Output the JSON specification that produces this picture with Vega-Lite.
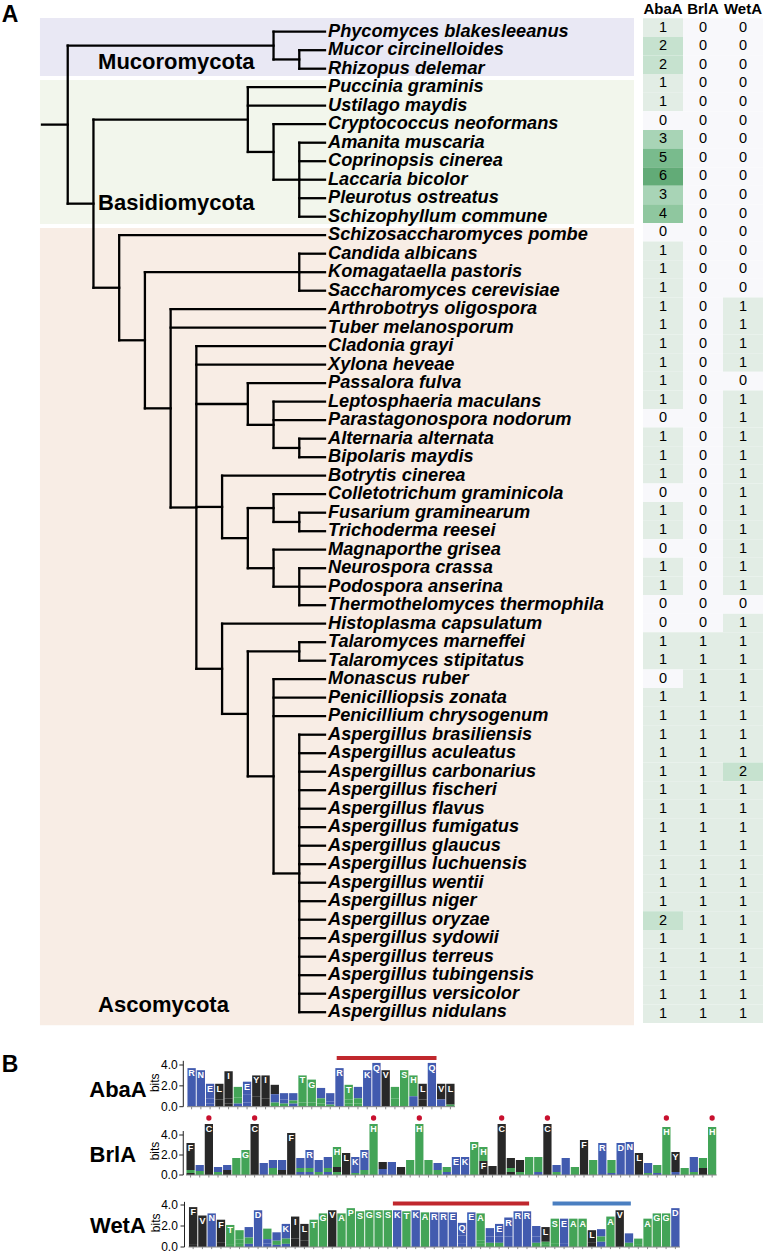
{
"$schema":"https://vega.github.io/schema/vega-lite/v6.json",
"width":768,"height":1254,"padding":0,
"autosize":{"type":"fit","contains":"padding"},
"background":"white",
"config":{"view":{"stroke":null},"axis":{"disable":true},"legend":{"disable":true},"text":{"font":"Liberation Sans"}},
"data":{"values":[{}]},
"resolve":{"scale":{"x":"independent","y":"independent","color":"independent"}},
"datasets":{
"species":[
{"n":"Phycomyces blakesleeanus","r":0,"pd":9,"AbaA":1,"BrlA":0,"WetA":0},
{"n":"Mucor circinelloides","r":1,"pd":10,"AbaA":2,"BrlA":0,"WetA":0},
{"n":"Rhizopus delemar","r":2,"pd":10,"AbaA":2,"BrlA":0,"WetA":0},
{"n":"Puccinia graminis","r":3,"pd":8,"AbaA":1,"BrlA":0,"WetA":0},
{"n":"Ustilago maydis","r":4,"pd":8,"AbaA":1,"BrlA":0,"WetA":0},
{"n":"Cryptococcus neoformans","r":5,"pd":9,"AbaA":0,"BrlA":0,"WetA":0},
{"n":"Amanita muscaria","r":6,"pd":10,"AbaA":3,"BrlA":0,"WetA":0},
{"n":"Coprinopsis cinerea","r":7,"pd":10,"AbaA":5,"BrlA":0,"WetA":0},
{"n":"Laccaria bicolor","r":8,"pd":10,"AbaA":6,"BrlA":0,"WetA":0},
{"n":"Pleurotus ostreatus","r":9,"pd":10,"AbaA":3,"BrlA":0,"WetA":0},
{"n":"Schizophyllum commune","r":10,"pd":10,"AbaA":4,"BrlA":0,"WetA":0},
{"n":"Schizosaccharomyces pombe","r":11,"pd":3,"AbaA":0,"BrlA":0,"WetA":0},
{"n":"Candida albicans","r":12,"pd":10,"AbaA":1,"BrlA":0,"WetA":0},
{"n":"Komagataella pastoris","r":13,"pd":10,"AbaA":1,"BrlA":0,"WetA":0},
{"n":"Saccharomyces cerevisiae","r":14,"pd":10,"AbaA":1,"BrlA":0,"WetA":0},
{"n":"Arthrobotrys oligospora","r":15,"pd":5,"AbaA":1,"BrlA":0,"WetA":1},
{"n":"Tuber melanosporum","r":16,"pd":5,"AbaA":1,"BrlA":0,"WetA":1},
{"n":"Cladonia grayi","r":17,"pd":6,"AbaA":1,"BrlA":0,"WetA":1},
{"n":"Xylona heveae","r":18,"pd":6,"AbaA":1,"BrlA":0,"WetA":1},
{"n":"Passalora fulva","r":19,"pd":8,"AbaA":1,"BrlA":0,"WetA":0},
{"n":"Leptosphaeria maculans","r":20,"pd":9,"AbaA":1,"BrlA":0,"WetA":1},
{"n":"Parastagonospora nodorum","r":21,"pd":9,"AbaA":0,"BrlA":0,"WetA":1},
{"n":"Alternaria alternata","r":22,"pd":10,"AbaA":1,"BrlA":0,"WetA":1},
{"n":"Bipolaris maydis","r":23,"pd":10,"AbaA":1,"BrlA":0,"WetA":1},
{"n":"Botrytis cinerea","r":24,"pd":7,"AbaA":1,"BrlA":0,"WetA":1},
{"n":"Colletotrichum graminicola","r":25,"pd":9,"AbaA":0,"BrlA":0,"WetA":1},
{"n":"Fusarium graminearum","r":26,"pd":10,"AbaA":1,"BrlA":0,"WetA":1},
{"n":"Trichoderma reesei","r":27,"pd":10,"AbaA":1,"BrlA":0,"WetA":1},
{"n":"Magnaporthe grisea","r":28,"pd":9,"AbaA":0,"BrlA":0,"WetA":1},
{"n":"Neurospora crassa","r":29,"pd":10,"AbaA":1,"BrlA":0,"WetA":1},
{"n":"Podospora anserina","r":30,"pd":10,"AbaA":1,"BrlA":0,"WetA":1},
{"n":"Thermothelomyces thermophila","r":31,"pd":10,"AbaA":0,"BrlA":0,"WetA":0},
{"n":"Histoplasma capsulatum","r":32,"pd":7,"AbaA":0,"BrlA":0,"WetA":1},
{"n":"Talaromyces marneffei","r":33,"pd":10,"AbaA":1,"BrlA":1,"WetA":1},
{"n":"Talaromyces stipitatus","r":34,"pd":10,"AbaA":1,"BrlA":1,"WetA":1},
{"n":"Monascus ruber","r":35,"pd":9,"AbaA":0,"BrlA":1,"WetA":1},
{"n":"Penicilliopsis zonata","r":36,"pd":9,"AbaA":1,"BrlA":1,"WetA":1},
{"n":"Penicillium chrysogenum","r":37,"pd":9,"AbaA":1,"BrlA":1,"WetA":1},
{"n":"Aspergillus brasiliensis","r":38,"pd":10,"AbaA":1,"BrlA":1,"WetA":1},
{"n":"Aspergillus aculeatus","r":39,"pd":10,"AbaA":1,"BrlA":1,"WetA":1},
{"n":"Aspergillus carbonarius","r":40,"pd":10,"AbaA":1,"BrlA":1,"WetA":2},
{"n":"Aspergillus fischeri","r":41,"pd":10,"AbaA":1,"BrlA":1,"WetA":1},
{"n":"Aspergillus flavus","r":42,"pd":10,"AbaA":1,"BrlA":1,"WetA":1},
{"n":"Aspergillus fumigatus","r":43,"pd":10,"AbaA":1,"BrlA":1,"WetA":1},
{"n":"Aspergillus glaucus","r":44,"pd":10,"AbaA":1,"BrlA":1,"WetA":1},
{"n":"Aspergillus luchuensis","r":45,"pd":10,"AbaA":1,"BrlA":1,"WetA":1},
{"n":"Aspergillus wentii","r":46,"pd":10,"AbaA":1,"BrlA":1,"WetA":1},
{"n":"Aspergillus niger","r":47,"pd":10,"AbaA":1,"BrlA":1,"WetA":1},
{"n":"Aspergillus oryzae","r":48,"pd":10,"AbaA":2,"BrlA":1,"WetA":1},
{"n":"Aspergillus sydowii","r":49,"pd":10,"AbaA":1,"BrlA":1,"WetA":1},
{"n":"Aspergillus terreus","r":50,"pd":10,"AbaA":1,"BrlA":1,"WetA":1},
{"n":"Aspergillus tubingensis","r":51,"pd":10,"AbaA":1,"BrlA":1,"WetA":1},
{"n":"Aspergillus versicolor","r":52,"pd":10,"AbaA":1,"BrlA":1,"WetA":1},
{"n":"Aspergillus nidulans","r":53,"pd":10,"AbaA":1,"BrlA":1,"WetA":1}
],
"edges":[
{"a":0,"b":1,"y1":5.0225,"y2":5.0225},{"a":1,"b":9,"y1":0.75,"y2":0.75},{"a":1,"b":2,"y1":9.295,"y2":9.295},
{"a":9,"b":10,"y1":1.5,"y2":1.5},{"a":2,"b":8,"y1":4.75,"y2":4.75},{"a":2,"b":3,"y1":13.84,"y2":13.84},
{"a":8,"b":9,"y1":6.5,"y2":6.5},{"a":9,"b":10,"y1":8,"y2":8},{"a":3,"b":4,"y1":16.68,"y2":16.68},
{"a":4,"b":10,"y1":13,"y2":13},{"a":4,"b":5,"y1":20.359,"y2":20.359},{"a":5,"b":6,"y1":25.719,"y2":25.719},
{"a":6,"b":8,"y1":20.125,"y2":20.125},{"a":6,"b":7,"y1":25.6875,"y2":25.6875},{"a":6,"b":7,"y1":34.4375,"y2":34.4375},
{"a":8,"b":9,"y1":21.25,"y2":21.25},{"a":9,"b":10,"y1":22.5,"y2":22.5},{"a":7,"b":8,"y1":27.375,"y2":27.375},
{"a":8,"b":9,"y1":25.75,"y2":25.75},{"a":8,"b":9,"y1":29,"y2":29},{"a":9,"b":10,"y1":26.5,"y2":26.5},
{"a":9,"b":10,"y1":30,"y2":30},{"a":7,"b":8,"y1":36.875,"y2":36.875},{"a":8,"b":10,"y1":33.5,"y2":33.5},
{"a":8,"b":9,"y1":40.25,"y2":40.25},{"a":9,"b":10,"y1":45.5,"y2":45.5},
{"a":1,"b":1,"y1":0.75,"y2":9.295},{"a":9,"b":9,"y1":0,"y2":1.5},{"a":10,"b":10,"y1":1,"y2":2},
{"a":2,"b":2,"y1":4.75,"y2":13.84},{"a":8,"b":8,"y1":3,"y2":6.5},{"a":9,"b":9,"y1":5,"y2":8},
{"a":10,"b":10,"y1":6,"y2":10},{"a":3,"b":3,"y1":11,"y2":16.68},{"a":4,"b":4,"y1":13,"y2":20.359},
{"a":10,"b":10,"y1":12,"y2":14},{"a":5,"b":5,"y1":15,"y2":25.719},{"a":6,"b":6,"y1":17,"y2":34.4375},
{"a":8,"b":8,"y1":19,"y2":21.25},{"a":9,"b":9,"y1":20,"y2":22.5},{"a":10,"b":10,"y1":22,"y2":23},
{"a":7,"b":7,"y1":24,"y2":27.375},{"a":8,"b":8,"y1":25.75,"y2":29},{"a":9,"b":9,"y1":25,"y2":26.5},
{"a":10,"b":10,"y1":26,"y2":27},{"a":9,"b":9,"y1":28,"y2":30},{"a":10,"b":10,"y1":29,"y2":31},
{"a":7,"b":7,"y1":32,"y2":36.875},{"a":8,"b":8,"y1":33.5,"y2":40.25},{"a":10,"b":10,"y1":33,"y2":34},
{"a":9,"b":9,"y1":35,"y2":45.5},{"a":10,"b":10,"y1":38,"y2":53}
],
"clades":[
{"c":"Mucoromycota","r1":-0.74,"r2":2.39,"lr":1.65},
{"c":"Basidiomycota","r1":2.61,"r2":10.4,"lr":9.28},
{"c":"Ascomycota","r1":10.61,"r2":53.7,"lr":52.6}
],
"genes":[{"g":"AbaA"},{"g":"BrlA"},{"g":"WetA"}],
"ticks":[{"v":0,"t":"0.0"},{"v":2,"t":"2.0"},{"v":4,"t":"4.0"}],
"letters":[
{"g":"AbaA","p":0,"l":"R","h":3.7,"k":1},
{"g":"AbaA","p":1,"l":"N","h":3.5,"k":1},
{"g":"AbaA","p":2,"l":"E","h":1.4,"k":1},{"g":"AbaA","p":2,"l":"Q","h":0.5,"k":2},{"g":"AbaA","p":2,"l":"D","h":0.3,"k":3},
{"g":"AbaA","p":3,"l":"L","h":1.5,"k":1},{"g":"AbaA","p":3,"l":"F","h":0.7,"k":2},
{"g":"AbaA","p":4,"l":"I","h":2.6,"k":1},{"g":"AbaA","p":4,"l":"F","h":0.5,"k":2},{"g":"AbaA","p":4,"l":"C","h":0.3,"k":3},
{"g":"AbaA","p":5,"l":"S","h":1.0,"k":1},{"g":"AbaA","p":5,"l":"A","h":0.6,"k":2},{"g":"AbaA","p":5,"l":"E","h":0.3,"k":3},
{"g":"AbaA","p":6,"l":"E","h":1.2,"k":1},{"g":"AbaA","p":6,"l":"D","h":0.8,"k":2},{"g":"AbaA","p":6,"l":"K","h":0.4,"k":3},
{"g":"AbaA","p":7,"l":"Y","h":2.0,"k":1},{"g":"AbaA","p":7,"l":"F","h":1.0,"k":2},
{"g":"AbaA","p":8,"l":"I","h":2.2,"k":1},{"g":"AbaA","p":8,"l":"C","h":0.8,"k":2},
{"g":"AbaA","p":9,"l":"Y","h":0.9,"k":1},{"g":"AbaA","p":9,"l":"E","h":0.8,"k":2},{"g":"AbaA","p":9,"l":"S","h":0.4,"k":3},
{"g":"AbaA","p":10,"l":"K","h":0.6,"k":1},{"g":"AbaA","p":10,"l":"E","h":0.4,"k":2},{"g":"AbaA","p":10,"l":"S","h":0.3,"k":3},
{"g":"AbaA","p":11,"l":"K","h":0.7,"k":1},{"g":"AbaA","p":11,"l":"S","h":0.3,"k":2},{"g":"AbaA","p":11,"l":"E","h":0.3,"k":3},
{"g":"AbaA","p":12,"l":"T","h":2.6,"k":1},{"g":"AbaA","p":12,"l":"S","h":0.4,"k":2},
{"g":"AbaA","p":13,"l":"G","h":2.2,"k":1},{"g":"AbaA","p":13,"l":"S","h":0.4,"k":2},
{"g":"AbaA","p":14,"l":"K","h":1.0,"k":1},{"g":"AbaA","p":14,"l":"T","h":0.5,"k":2},{"g":"AbaA","p":14,"l":"S","h":0.3,"k":3},
{"g":"AbaA","p":15,"l":"R","h":0.8,"k":1},{"g":"AbaA","p":15,"l":"K","h":0.3,"k":2},{"g":"AbaA","p":15,"l":"S","h":0.2,"k":3},
{"g":"AbaA","p":16,"l":"R","h":3.7,"k":1},
{"g":"AbaA","p":17,"l":"T","h":1.4,"k":1},{"g":"AbaA","p":17,"l":"S","h":0.4,"k":2},{"g":"AbaA","p":17,"l":"G","h":0.3,"k":3},
{"g":"AbaA","p":18,"l":"R","h":1.1,"k":1},{"g":"AbaA","p":18,"l":"G","h":0.5,"k":2},{"g":"AbaA","p":18,"l":"S","h":0.3,"k":3},
{"g":"AbaA","p":19,"l":"K","h":3.5,"k":1},
{"g":"AbaA","p":20,"l":"Q","h":4.2,"k":1},
{"g":"AbaA","p":21,"l":"V","h":3.5,"k":1},
{"g":"AbaA","p":22,"l":"S","h":1.1,"k":1},{"g":"AbaA","p":22,"l":"G","h":0.8,"k":2},
{"g":"AbaA","p":23,"l":"S","h":3.5,"k":1},
{"g":"AbaA","p":24,"l":"H","h":2.0,"k":1},{"g":"AbaA","p":24,"l":"R","h":1.0,"k":2},
{"g":"AbaA","p":25,"l":"L","h":1.5,"k":1},{"g":"AbaA","p":25,"l":"I","h":0.7,"k":2},
{"g":"AbaA","p":26,"l":"Q","h":4.2,"k":1},
{"g":"AbaA","p":27,"l":"V","h":1.5,"k":1},{"g":"AbaA","p":27,"l":"Q","h":0.7,"k":2},
{"g":"AbaA","p":28,"l":"L","h":2.0,"k":1},{"g":"AbaA","p":28,"l":"A","h":0.2,"k":2},
{"g":"BrlA","p":0,"l":"F","h":2.7,"k":1},{"g":"BrlA","p":0,"l":"H","h":0.3,"k":2},{"g":"BrlA","p":0,"l":"Y","h":0.2,"k":3},
{"g":"BrlA","p":1,"l":"K","h":0.6,"k":1},{"g":"BrlA","p":1,"l":"H","h":0.4,"k":2},
{"g":"BrlA","p":2,"l":"C","h":5.1,"k":1},
{"g":"BrlA","p":3,"l":"K","h":0.5,"k":1},{"g":"BrlA","p":3,"l":"S","h":0.3,"k":2},
{"g":"BrlA","p":4,"l":"E","h":0.5,"k":1},{"g":"BrlA","p":4,"l":"F","h":0.3,"k":2},{"g":"BrlA","p":4,"l":"M","h":0.2,"k":3},
{"g":"BrlA","p":5,"l":"P","h":1.1,"k":1},{"g":"BrlA","p":5,"l":"S","h":0.4,"k":2},{"g":"BrlA","p":5,"l":"G","h":0.2,"k":3},
{"g":"BrlA","p":6,"l":"G","h":2.0,"k":1},{"g":"BrlA","p":6,"l":"S","h":0.3,"k":2},{"g":"BrlA","p":6,"l":"A","h":0.2,"k":3},
{"g":"BrlA","p":7,"l":"C","h":5.1,"k":1},
{"g":"BrlA","p":8,"l":"Q","h":0.6,"k":1},{"g":"BrlA","p":8,"l":"K","h":0.6,"k":2},
{"g":"BrlA","p":9,"l":"K","h":0.8,"k":1},{"g":"BrlA","p":9,"l":"G","h":0.5,"k":2},{"g":"BrlA","p":9,"l":"S","h":0.2,"k":3},
{"g":"BrlA","p":10,"l":"R","h":1.0,"k":1},{"g":"BrlA","p":10,"l":"Y","h":0.5,"k":2},
{"g":"BrlA","p":11,"l":"F","h":4.2,"k":1},
{"g":"BrlA","p":12,"l":"K","h":1.0,"k":1},{"g":"BrlA","p":12,"l":"S","h":0.4,"k":2},{"g":"BrlA","p":12,"l":"Q","h":0.3,"k":3},
{"g":"BrlA","p":13,"l":"R","h":1.8,"k":1},{"g":"BrlA","p":13,"l":"S","h":0.4,"k":2},{"g":"BrlA","p":13,"l":"Q","h":0.3,"k":3},
{"g":"BrlA","p":14,"l":"Q","h":0.8,"k":1},{"g":"BrlA","p":14,"l":"E","h":0.4,"k":2},{"g":"BrlA","p":14,"l":"S","h":0.3,"k":3},
{"g":"BrlA","p":15,"l":"E","h":1.1,"k":1},{"g":"BrlA","p":15,"l":"S","h":0.4,"k":2},{"g":"BrlA","p":15,"l":"D","h":0.3,"k":3},
{"g":"BrlA","p":16,"l":"H","h":2.0,"k":1},{"g":"BrlA","p":16,"l":"Y","h":0.5,"k":2},{"g":"BrlA","p":16,"l":"S","h":0.3,"k":3},
{"g":"BrlA","p":17,"l":"L","h":1.8,"k":1},{"g":"BrlA","p":17,"l":"V","h":0.4,"k":2},
{"g":"BrlA","p":18,"l":"K","h":1.2,"k":1},{"g":"BrlA","p":18,"l":"R","h":0.4,"k":2},{"g":"BrlA","p":18,"l":"S","h":0.2,"k":3},
{"g":"BrlA","p":19,"l":"R","h":2.0,"k":1},{"g":"BrlA","p":19,"l":"S","h":0.3,"k":2},{"g":"BrlA","p":19,"l":"A","h":0.2,"k":3},
{"g":"BrlA","p":20,"l":"H","h":5.1,"k":1},
{"g":"BrlA","p":21,"l":"M","h":0.7,"k":1},{"g":"BrlA","p":21,"l":"K","h":0.6,"k":2},
{"g":"BrlA","p":22,"l":"R","h":0.7,"k":1},{"g":"BrlA","p":22,"l":"K","h":0.6,"k":2},
{"g":"BrlA","p":23,"l":"I","h":0.8,"k":1},
{"g":"BrlA","p":24,"l":"S","h":0.9,"k":1},{"g":"BrlA","p":24,"l":"T","h":0.6,"k":2},
{"g":"BrlA","p":25,"l":"H","h":5.1,"k":1},
{"g":"BrlA","p":26,"l":"S","h":0.9,"k":1},{"g":"BrlA","p":26,"l":"T","h":0.4,"k":2},{"g":"BrlA","p":26,"l":"G","h":0.2,"k":3},
{"g":"BrlA","p":27,"l":"K","h":0.7,"k":1},{"g":"BrlA","p":27,"l":"S","h":0.5,"k":2},
{"g":"BrlA","p":28,"l":"S","h":0.5,"k":1},{"g":"BrlA","p":28,"l":"K","h":0.3,"k":2},
{"g":"BrlA","p":29,"l":"E","h":1.3,"k":1},{"g":"BrlA","p":29,"l":"R","h":0.5,"k":2},
{"g":"BrlA","p":30,"l":"K","h":1.2,"k":1},{"g":"BrlA","p":30,"l":"R","h":0.6,"k":2},
{"g":"BrlA","p":31,"l":"P","h":3.3,"k":1},
{"g":"BrlA","p":32,"l":"H","h":1.4,"k":1},{"g":"BrlA","p":32,"l":"F","h":1.2,"k":2},{"g":"BrlA","p":32,"l":"Y","h":0.2,"k":3},
{"g":"BrlA","p":33,"l":"Y","h":0.6,"k":1},{"g":"BrlA","p":33,"l":"V","h":0.3,"k":2},
{"g":"BrlA","p":34,"l":"C","h":5.1,"k":1},
{"g":"BrlA","p":35,"l":"W","h":1.0,"k":1},{"g":"BrlA","p":35,"l":"S","h":0.4,"k":2},{"g":"BrlA","p":35,"l":"Y","h":0.3,"k":3},
{"g":"BrlA","p":36,"l":"Y","h":0.9,"k":1},{"g":"BrlA","p":36,"l":"V","h":0.3,"k":2},{"g":"BrlA","p":36,"l":"S","h":0.3,"k":3},
{"g":"BrlA","p":37,"l":"P","h":1.1,"k":1},{"g":"BrlA","p":37,"l":"S","h":0.4,"k":2},{"g":"BrlA","p":37,"l":"G","h":0.3,"k":3},
{"g":"BrlA","p":38,"l":"G","h":1.1,"k":1},{"g":"BrlA","p":38,"l":"S","h":0.4,"k":2},{"g":"BrlA","p":38,"l":"N","h":0.3,"k":3},
{"g":"BrlA","p":39,"l":"C","h":5.1,"k":1},
{"g":"BrlA","p":40,"l":"K","h":0.4,"k":1},{"g":"BrlA","p":40,"l":"N","h":0.3,"k":2},{"g":"BrlA","p":40,"l":"S","h":0.3,"k":3},
{"g":"BrlA","p":41,"l":"R","h":0.9,"k":1},{"g":"BrlA","p":41,"l":"K","h":0.8,"k":2},
{"g":"BrlA","p":42,"l":"A","h":0.5,"k":1},{"g":"BrlA","p":42,"l":"S","h":0.3,"k":2},
{"g":"BrlA","p":43,"l":"F","h":3.5,"k":1},
{"g":"BrlA","p":44,"l":"S","h":1.0,"k":1},{"g":"BrlA","p":44,"l":"G","h":0.3,"k":2},{"g":"BrlA","p":44,"l":"T","h":0.2,"k":3},
{"g":"BrlA","p":45,"l":"R","h":3.2,"k":1},
{"g":"BrlA","p":46,"l":"S","h":1.0,"k":1},{"g":"BrlA","p":46,"l":"T","h":0.3,"k":2},{"g":"BrlA","p":46,"l":"K","h":0.2,"k":3},
{"g":"BrlA","p":47,"l":"D","h":3.2,"k":1},
{"g":"BrlA","p":48,"l":"N","h":3.3,"k":1},
{"g":"BrlA","p":49,"l":"L","h":2.2,"k":1},
{"g":"BrlA","p":50,"l":"N","h":0.7,"k":1},{"g":"BrlA","p":50,"l":"K","h":0.3,"k":2},{"g":"BrlA","p":50,"l":"S","h":0.2,"k":3},
{"g":"BrlA","p":51,"l":"A","h":0.6,"k":1},{"g":"BrlA","p":51,"l":"S","h":0.2,"k":2},{"g":"BrlA","p":51,"l":"Q","h":0.2,"k":3},
{"g":"BrlA","p":52,"l":"H","h":4.8,"k":1},
{"g":"BrlA","p":53,"l":"Y","h":1.5,"k":1},{"g":"BrlA","p":53,"l":"C","h":0.5,"k":2},{"g":"BrlA","p":53,"l":"E","h":0.3,"k":3},
{"g":"BrlA","p":54,"l":"T","h":0.4,"k":1},{"g":"BrlA","p":54,"l":"S","h":0.3,"k":2},
{"g":"BrlA","p":55,"l":"K","h":1.0,"k":1},{"g":"BrlA","p":55,"l":"R","h":0.5,"k":2},{"g":"BrlA","p":55,"l":"S","h":0.3,"k":3},
{"g":"BrlA","p":56,"l":"T","h":1.0,"k":1},{"g":"BrlA","p":56,"l":"I","h":0.7,"k":2},
{"g":"BrlA","p":57,"l":"H","h":4.8,"k":1},
{"g":"WetA","p":0,"l":"F","h":3.6,"k":1},{"g":"WetA","p":0,"l":"Y","h":0.2,"k":2},
{"g":"WetA","p":1,"l":"V","h":3.0,"k":1},
{"g":"WetA","p":2,"l":"N","h":3.2,"k":1},
{"g":"WetA","p":3,"l":"F","h":2.2,"k":1},{"g":"WetA","p":3,"l":"Y","h":0.4,"k":2},
{"g":"WetA","p":4,"l":"T","h":1.9,"k":1},{"g":"WetA","p":4,"l":"S","h":0.2,"k":2},
{"g":"WetA","p":5,"l":"P","h":0.9,"k":1},{"g":"WetA","p":5,"l":"A","h":0.4,"k":2},{"g":"WetA","p":5,"l":"S","h":0.3,"k":3},
{"g":"WetA","p":6,"l":"N","h":1.0,"k":1},{"g":"WetA","p":6,"l":"S","h":0.6,"k":2},{"g":"WetA","p":6,"l":"D","h":0.3,"k":3},
{"g":"WetA","p":7,"l":"D","h":3.5,"k":1},
{"g":"WetA","p":8,"l":"S","h":1.0,"k":1},{"g":"WetA","p":8,"l":"K","h":0.4,"k":2},{"g":"WetA","p":8,"l":"N","h":0.35,"k":3},
{"g":"WetA","p":9,"l":"K","h":0.8,"k":1},{"g":"WetA","p":9,"l":"S","h":0.4,"k":2},{"g":"WetA","p":9,"l":"R","h":0.2,"k":3},
{"g":"WetA","p":10,"l":"K","h":1.4,"k":1},{"g":"WetA","p":10,"l":"S","h":0.5,"k":2},{"g":"WetA","p":10,"l":"E","h":0.3,"k":3},
{"g":"WetA","p":11,"l":"I","h":2.1,"k":1},{"g":"WetA","p":11,"l":"C","h":0.8,"k":2},
{"g":"WetA","p":12,"l":"L","h":1.6,"k":1},{"g":"WetA","p":12,"l":"M","h":0.6,"k":2},
{"g":"WetA","p":13,"l":"T","h":2.6,"k":1},
{"g":"WetA","p":14,"l":"G","h":3.2,"k":1},
{"g":"WetA","p":15,"l":"V","h":3.5,"k":1},
{"g":"WetA","p":16,"l":"A","h":3.2,"k":1},
{"g":"WetA","p":17,"l":"P","h":3.7,"k":1},
{"g":"WetA","p":18,"l":"S","h":3.4,"k":1},
{"g":"WetA","p":19,"l":"G","h":3.5,"k":1},
{"g":"WetA","p":20,"l":"S","h":3.5,"k":1},
{"g":"WetA","p":21,"l":"S","h":3.5,"k":1},
{"g":"WetA","p":22,"l":"K","h":3.5,"k":1},
{"g":"WetA","p":23,"l":"T","h":3.4,"k":1},
{"g":"WetA","p":24,"l":"K","h":3.5,"k":1},
{"g":"WetA","p":25,"l":"A","h":3.3,"k":1},
{"g":"WetA","p":26,"l":"R","h":3.3,"k":1},
{"g":"WetA","p":27,"l":"R","h":3.3,"k":1},
{"g":"WetA","p":28,"l":"E","h":3.3,"k":1},
{"g":"WetA","p":29,"l":"Q","h":1.2,"k":1},{"g":"WetA","p":29,"l":"K","h":0.8,"k":2},{"g":"WetA","p":29,"l":"R","h":0.3,"k":3},
{"g":"WetA","p":30,"l":"E","h":3.3,"k":1},
{"g":"WetA","p":31,"l":"A","h":2.6,"k":1},{"g":"WetA","p":31,"l":"S","h":0.3,"k":2},{"g":"WetA","p":31,"l":"G","h":0.3,"k":3},
{"g":"WetA","p":32,"l":"R","h":0.8,"k":1},{"g":"WetA","p":32,"l":"E","h":0.6,"k":2},{"g":"WetA","p":32,"l":"G","h":0.4,"k":3},
{"g":"WetA","p":33,"l":"E","h":1.2,"k":1},{"g":"WetA","p":33,"l":"D","h":0.6,"k":2},{"g":"WetA","p":33,"l":"S","h":0.4,"k":3},
{"g":"WetA","p":34,"l":"R","h":1.8,"k":1},{"g":"WetA","p":34,"l":"K","h":1.0,"k":2},
{"g":"WetA","p":35,"l":"R","h":3.4,"k":1},
{"g":"WetA","p":36,"l":"R","h":3.4,"k":1},
{"g":"WetA","p":37,"l":"K","h":1.0,"k":1},{"g":"WetA","p":37,"l":"R","h":0.6,"k":2},{"g":"WetA","p":37,"l":"S","h":0.4,"k":3},
{"g":"WetA","p":38,"l":"L","h":1.4,"k":1},{"g":"WetA","p":38,"l":"S","h":0.3,"k":2},{"g":"WetA","p":38,"l":"T","h":0.2,"k":3},
{"g":"WetA","p":39,"l":"S","h":2.4,"k":1},{"g":"WetA","p":39,"l":"G","h":0.3,"k":2},
{"g":"WetA","p":40,"l":"E","h":2.4,"k":1},{"g":"WetA","p":40,"l":"D","h":0.3,"k":2},
{"g":"WetA","p":41,"l":"A","h":2.7,"k":1},
{"g":"WetA","p":42,"l":"A","h":2.7,"k":1},
{"g":"WetA","p":43,"l":"L","h":1.2,"k":1},{"g":"WetA","p":43,"l":"M","h":0.4,"k":2},
{"g":"WetA","p":44,"l":"K","h":0.7,"k":1},{"g":"WetA","p":44,"l":"S","h":0.5,"k":2},{"g":"WetA","p":44,"l":"Q","h":0.5,"k":3},
{"g":"WetA","p":45,"l":"A","h":2.9,"k":1},
{"g":"WetA","p":46,"l":"V","h":3.5,"k":1},
{"g":"WetA","p":47,"l":"R","h":0.9,"k":1},{"g":"WetA","p":47,"l":"S","h":0.4,"k":2},
{"g":"WetA","p":48,"l":"S","h":0.6,"k":1},{"g":"WetA","p":48,"l":"A","h":0.2,"k":2},
{"g":"WetA","p":49,"l":"A","h":2.7,"k":1},
{"g":"WetA","p":50,"l":"G","h":3.2,"k":1},
{"g":"WetA","p":51,"l":"G","h":3.2,"k":1},
{"g":"WetA","p":52,"l":"D","h":3.7,"k":1}
]
},
"layer":[
{"data":{"name":"clades"},"mark":{"type":"rect"},
 "encoding":{"x":{"datum":-0.08,"type":"quantitative","scale":{"domain":[0,11],"range":[42,325],"nice":false,"zero":false}},"x2":{"datum":23.01},
 "y":{"field":"r1","type":"quantitative","scale":{"domain":[0,53],"range":[31.7,1012.2],"nice":false,"zero":false}},"y2":{"field":"r2"},
 "color":{"field":"c","type":"nominal","scale":{"domain":["Mucoromycota","Basidiomycota","Ascomycota"],"range":["#e9e8f4","#f2f6ec","#f8ede5"]},"legend":null}}},
{"data":{"name":"clades"},"mark":{"type":"text","align":"left","baseline":"middle","fontSize":22,"fontWeight":"bold","color":"#000"},
 "encoding":{"x":{"datum":2.18,"type":"quantitative","scale":{"domain":[0,11],"range":[42,325],"nice":false,"zero":false}},
 "y":{"field":"lr","type":"quantitative","scale":{"domain":[0,53],"range":[31.7,1012.2],"nice":false,"zero":false}},"text":{"field":"c"}}},
{"data":{"name":"species"},"mark":{"type":"rule","color":"#000","strokeWidth":2.3,"strokeCap":"square"},
 "encoding":{"x":{"field":"pd","type":"quantitative","scale":{"domain":[0,11],"range":[42,325],"nice":false,"zero":false}},"x2":{"datum":11},
 "y":{"field":"r","type":"quantitative","scale":{"domain":[0,53],"range":[31.7,1012.2],"nice":false,"zero":false}}}},
{"data":{"name":"edges"},"mark":{"type":"rule","color":"#000","strokeWidth":2.3,"strokeCap":"square"},
 "encoding":{"x":{"field":"a","type":"quantitative","scale":{"domain":[0,11],"range":[42,325],"nice":false,"zero":false}},"x2":{"field":"b"},
 "y":{"field":"y1","type":"quantitative","scale":{"domain":[0,53],"range":[31.7,1012.2],"nice":false,"zero":false}},"y2":{"field":"y2"}}},
{"data":{"name":"species"},"mark":{"type":"text","align":"left","baseline":"middle","dx":3,"fontSize":18.2,"fontWeight":"bold","fontStyle":"italic","color":"#000"},
 "encoding":{"x":{"datum":11,"type":"quantitative","scale":{"domain":[0,11],"range":[42,325],"nice":false,"zero":false}},
 "y":{"field":"r","type":"quantitative","scale":{"domain":[0,53],"range":[31.7,1012.2],"nice":false,"zero":false}},"text":{"field":"n"}}},
{"mark":{"type":"text","text":"A","fontSize":23,"fontWeight":"bold","align":"center","baseline":"middle","color":"#000"},
 "encoding":{"x":{"datum":-1.244,"type":"quantitative","scale":{"domain":[0,11],"range":[42,325],"nice":false,"zero":false}},
 "y":{"datum":-0.9,"type":"quantitative","scale":{"domain":[0,53],"range":[31.7,1012.2],"nice":false,"zero":false}}}},
{"mark":{"type":"text","text":"B","fontSize":23,"fontWeight":"bold","align":"center","baseline":"middle","color":"#000"},
 "encoding":{"x":{"datum":-1.244,"type":"quantitative","scale":{"domain":[0,11],"range":[42,325],"nice":false,"zero":false}},
 "y":{"datum":55.85,"type":"quantitative","scale":{"domain":[0,53],"range":[31.7,1012.2],"nice":false,"zero":false}}}},
{"data":{"name":"species"},"transform":[{"fold":["AbaA","BrlA","WetA"],"as":["gene","cnt"]}],"mark":{"type":"rect"},
 "encoding":{"x":{"field":"gene","type":"nominal","scale":{"type":"band","domain":["AbaA","BrlA","WetA"],"range":[643,763],"paddingInner":0,"paddingOuter":0}},
 "y":{"field":"r","type":"ordinal","scale":{"type":"band","domain":[0,1,2,3,4,5,6,7,8,9,10,11,12,13,14,15,16,17,18,19,20,21,22,23,24,25,26,27,28,29,30,31,32,33,34,35,36,37,38,39,40,41,42,43,44,45,46,47,48,49,50,51,52,53],"range":[18.3,1023],"paddingInner":0,"paddingOuter":0}},
 "color":{"field":"cnt","type":"ordinal","scale":{"domain":[0,1,2,3,4,5,6],"range":["#f8f8fb","#e2ede5","#c6e2cf","#a8d4b6","#8fc79f","#79bb8d","#62ab77"]},"legend":null}}},
{"data":{"name":"species"},"transform":[{"fold":["AbaA","BrlA","WetA"],"as":["gene","cnt"]}],"mark":{"type":"text","fontSize":14.5,"color":"#000","baseline":"middle","align":"center"},
 "encoding":{"x":{"field":"gene","type":"nominal","scale":{"type":"band","domain":["AbaA","BrlA","WetA"],"range":[643,763],"paddingInner":0,"paddingOuter":0}},
 "y":{"field":"r","type":"ordinal","scale":{"type":"band","domain":[0,1,2,3,4,5,6,7,8,9,10,11,12,13,14,15,16,17,18,19,20,21,22,23,24,25,26,27,28,29,30,31,32,33,34,35,36,37,38,39,40,41,42,43,44,45,46,47,48,49,50,51,52,53],"range":[18.3,1023],"paddingInner":0,"paddingOuter":0}},
 "text":{"field":"cnt","type":"quantitative"}}},
{"data":{"name":"genes"},"mark":{"type":"text","fontSize":15,"fontWeight":"bold","color":"#000","baseline":"middle","align":"center"},
 "encoding":{"x":{"field":"g","type":"nominal","scale":{"type":"band","domain":["AbaA","BrlA","WetA"],"range":[643,763],"paddingInner":0,"paddingOuter":0}},
 "y":{"datum":-1.25,"type":"quantitative","scale":{"domain":[0,53],"range":[31.7,1012.2],"nice":false,"zero":false}},"text":{"field":"g"}}},

{"data":{"name":"letters"},"transform":[{"filter":"datum.g==='AbaA'"},{"stack":"h","groupby":["p"],"sort":[{"field":"k","order":"descending"}],"as":["s0","s1"]}],
 "mark":{"type":"rect","opacity":0.9},
 "encoding":{"x":{"field":"p","type":"ordinal","scale":{"type":"band","domain":[0,1,2,3,4,5,6,7,8,9,10,11,12,13,14,15,16,17,18,19,20,21,22,23,24,25,26,27,28],"range":[187,455],"paddingInner":0.1,"paddingOuter":0.05}},
 "y":{"field":"s0","type":"quantitative","scale":{"domain":[0,4],"range":[1106.7,1065],"nice":false,"zero":false}},"y2":{"field":"s1"},
 "color":{"field":"l","type":"nominal","scale":{"domain":["R","K","N","D","E","Q","S","T","G","H","P","A","F","V","L","I","Y","C","M","W"],"range":["#2d49a6","#2d49a6","#2d49a6","#2d49a6","#2d49a6","#2d49a6","#2f9a45","#2f9a45","#2f9a45","#2f9a45","#2f9a45","#2f9a45","#111111","#111111","#111111","#111111","#111111","#111111","#111111","#111111"]},"legend":null}}},
{"data":{"name":"letters"},"transform":[{"filter":"datum.g==='AbaA'"},{"stack":"h","groupby":["p"],"sort":[{"field":"k","order":"descending"}],"as":["s0","s1"]},{"filter":"datum.h>=1.2"}],
 "mark":{"type":"text","color":"white","fontSize":9,"fontWeight":"bold","baseline":"top","dy":1,"align":"center"},
 "encoding":{"x":{"field":"p","type":"ordinal","scale":{"type":"band","domain":[0,1,2,3,4,5,6,7,8,9,10,11,12,13,14,15,16,17,18,19,20,21,22,23,24,25,26,27,28],"range":[187,455],"paddingInner":0.1,"paddingOuter":0.05}},
 "y":{"field":"s1","type":"quantitative","scale":{"domain":[0,4],"range":[1106.7,1065],"nice":false,"zero":false}},"text":{"field":"l"}}},
{"data":{"name":"letters"},"transform":[{"filter":"datum.g==='AbaA' && datum.k===1"}],"mark":{"type":"rule","color":"#888","strokeWidth":1},
 "encoding":{"x":{"field":"p","type":"ordinal","scale":{"type":"band","domain":[0,1,2,3,4,5,6,7,8,9,10,11,12,13,14,15,16,17,18,19,20,21,22,23,24,25,26,27,28],"range":[187,455],"paddingInner":0.1,"paddingOuter":0.05}},
 "y":{"datum":0,"type":"quantitative","scale":{"domain":[0,4],"range":[1106.7,1065],"nice":false,"zero":false}},"y2":{"datum":-0.25}}},
{"mark":{"type":"rule","color":"#888","strokeWidth":1},
 "encoding":{"x":{"datum":0,"type":"quantitative","scale":{"domain":[0,29],"range":[187,455],"nice":false,"zero":false}},"x2":{"datum":29},
 "y":{"datum":0,"type":"quantitative","scale":{"domain":[0,4],"range":[1106.7,1065],"nice":false,"zero":false}}}},
{"mark":{"type":"rule","color":"#222","strokeWidth":1},
 "encoding":{"x":{"datum":-0.4,"type":"quantitative","scale":{"domain":[0,29],"range":[187,455],"nice":false,"zero":false}},
 "y":{"datum":0,"type":"quantitative","scale":{"domain":[0,4],"range":[1106.7,1065],"nice":false,"zero":false}},"y2":{"datum":4.4}}},
{"data":{"name":"ticks"},"mark":{"type":"rule","color":"#222","strokeWidth":1},
 "encoding":{"x":{"datum":-0.83,"type":"quantitative","scale":{"domain":[0,29],"range":[187,455],"nice":false,"zero":false}},"x2":{"datum":-0.4},
 "y":{"field":"v","type":"quantitative","scale":{"domain":[0,4],"range":[1106.7,1065],"nice":false,"zero":false}}}},
{"data":{"name":"ticks"},"mark":{"type":"text","fontSize":12,"align":"right","baseline":"middle","color":"#000"},
 "encoding":{"x":{"datum":-1.0,"type":"quantitative","scale":{"domain":[0,29],"range":[187,455],"nice":false,"zero":false}},
 "y":{"field":"v","type":"quantitative","scale":{"domain":[0,4],"range":[1106.7,1065],"nice":false,"zero":false}},"text":{"field":"t"}}},
{"mark":{"type":"text","text":"bits","fontSize":12,"angle":270,"align":"center","baseline":"middle","color":"#000"},
 "encoding":{"x":{"datum":-3.45,"type":"quantitative","scale":{"domain":[0,29],"range":[187,455],"nice":false,"zero":false}},
 "y":{"datum":2.3,"type":"quantitative","scale":{"domain":[0,4],"range":[1106.7,1065],"nice":false,"zero":false}}}},
{"mark":{"type":"text","text":"AbaA","fontSize":22,"fontWeight":"bold","align":"right","baseline":"middle","color":"#000"},
 "encoding":{"x":{"datum":-4.36,"type":"quantitative","scale":{"domain":[0,29],"range":[187,455],"nice":false,"zero":false}},
 "y":{"datum":1.6,"type":"quantitative","scale":{"domain":[0,4],"range":[1106.7,1065],"nice":false,"zero":false}}}},
{"mark":{"type":"rule","color":"#c0272d","strokeWidth":4},
 "encoding":{"x":{"datum":16.2,"type":"quantitative","scale":{"domain":[0,29],"range":[187,455],"nice":false,"zero":false}},"x2":{"datum":27},
 "y":{"datum":4.67,"type":"quantitative","scale":{"domain":[0,4],"range":[1106.7,1065],"nice":false,"zero":false}}}},

{"data":{"name":"letters"},"transform":[{"filter":"datum.g==='BrlA'"},{"stack":"h","groupby":["p"],"sort":[{"field":"k","order":"descending"}],"as":["s0","s1"]}],
 "mark":{"type":"rect","opacity":0.9},
 "encoding":{"x":{"field":"p","type":"ordinal","scale":{"type":"band","domain":[0,1,2,3,4,5,6,7,8,9,10,11,12,13,14,15,16,17,18,19,20,21,22,23,24,25,26,27,28,29,30,31,32,33,34,35,36,37,38,39,40,41,42,43,44,45,46,47,48,49,50,51,52,53,54,55,56,57],"range":[186,716.7],"paddingInner":0.1,"paddingOuter":0.05}},
 "y":{"field":"s0","type":"quantitative","scale":{"domain":[0,4],"range":[1175,1135],"nice":false,"zero":false}},"y2":{"field":"s1"},
 "color":{"field":"l","type":"nominal","scale":{"domain":["R","K","N","D","E","Q","S","T","G","H","P","A","F","V","L","I","Y","C","M","W"],"range":["#2d49a6","#2d49a6","#2d49a6","#2d49a6","#2d49a6","#2d49a6","#2f9a45","#2f9a45","#2f9a45","#2f9a45","#2f9a45","#2f9a45","#111111","#111111","#111111","#111111","#111111","#111111","#111111","#111111"]},"legend":null}}},
{"data":{"name":"letters"},"transform":[{"filter":"datum.g==='BrlA'"},{"stack":"h","groupby":["p"],"sort":[{"field":"k","order":"descending"}],"as":["s0","s1"]},{"filter":"datum.h>=1.2"}],
 "mark":{"type":"text","color":"white","fontSize":9,"fontWeight":"bold","baseline":"top","dy":1,"align":"center"},
 "encoding":{"x":{"field":"p","type":"ordinal","scale":{"type":"band","domain":[0,1,2,3,4,5,6,7,8,9,10,11,12,13,14,15,16,17,18,19,20,21,22,23,24,25,26,27,28,29,30,31,32,33,34,35,36,37,38,39,40,41,42,43,44,45,46,47,48,49,50,51,52,53,54,55,56,57],"range":[186,716.7],"paddingInner":0.1,"paddingOuter":0.05}},
 "y":{"field":"s1","type":"quantitative","scale":{"domain":[0,4],"range":[1175,1135],"nice":false,"zero":false}},"text":{"field":"l"}}},
{"data":{"name":"letters"},"transform":[{"filter":"datum.g==='BrlA' && datum.k===1"}],"mark":{"type":"rule","color":"#888","strokeWidth":1},
 "encoding":{"x":{"field":"p","type":"ordinal","scale":{"type":"band","domain":[0,1,2,3,4,5,6,7,8,9,10,11,12,13,14,15,16,17,18,19,20,21,22,23,24,25,26,27,28,29,30,31,32,33,34,35,36,37,38,39,40,41,42,43,44,45,46,47,48,49,50,51,52,53,54,55,56,57],"range":[186,716.7],"paddingInner":0.1,"paddingOuter":0.05}},
 "y":{"datum":0,"type":"quantitative","scale":{"domain":[0,4],"range":[1175,1135],"nice":false,"zero":false}},"y2":{"datum":-0.25}}},
{"data":{"name":"letters"},"transform":[{"filter":"datum.g==='BrlA' && datum.k===1 && (datum.l==='C' || datum.l==='H') && datum.h>4"}],
 "mark":{"type":"point","filled":true,"color":"#c8102e","size":28,"opacity":1},
 "encoding":{"x":{"field":"p","type":"ordinal","scale":{"type":"band","domain":[0,1,2,3,4,5,6,7,8,9,10,11,12,13,14,15,16,17,18,19,20,21,22,23,24,25,26,27,28,29,30,31,32,33,34,35,36,37,38,39,40,41,42,43,44,45,46,47,48,49,50,51,52,53,54,55,56,57],"range":[186,716.7],"paddingInner":0.1,"paddingOuter":0.05}},
 "y":{"datum":5.7,"type":"quantitative","scale":{"domain":[0,4],"range":[1175,1135],"nice":false,"zero":false}}}},
{"mark":{"type":"rule","color":"#888","strokeWidth":1},
 "encoding":{"x":{"datum":0,"type":"quantitative","scale":{"domain":[0,58],"range":[186,716.7],"nice":false,"zero":false}},"x2":{"datum":58},
 "y":{"datum":0,"type":"quantitative","scale":{"domain":[0,4],"range":[1175,1135],"nice":false,"zero":false}}}},
{"mark":{"type":"rule","color":"#222","strokeWidth":1},
 "encoding":{"x":{"datum":-0.3,"type":"quantitative","scale":{"domain":[0,58],"range":[186,716.7],"nice":false,"zero":false}},
 "y":{"datum":0,"type":"quantitative","scale":{"domain":[0,4],"range":[1175,1135],"nice":false,"zero":false}},"y2":{"datum":4.4}}},
{"data":{"name":"ticks"},"mark":{"type":"rule","color":"#222","strokeWidth":1},
 "encoding":{"x":{"datum":-0.74,"type":"quantitative","scale":{"domain":[0,58],"range":[186,716.7],"nice":false,"zero":false}},"x2":{"datum":-0.3},
 "y":{"field":"v","type":"quantitative","scale":{"domain":[0,4],"range":[1175,1135],"nice":false,"zero":false}}}},
{"data":{"name":"ticks"},"mark":{"type":"text","fontSize":12,"align":"right","baseline":"middle","color":"#000"},
 "encoding":{"x":{"datum":-0.92,"type":"quantitative","scale":{"domain":[0,58],"range":[186,716.7],"nice":false,"zero":false}},
 "y":{"field":"v","type":"quantitative","scale":{"domain":[0,4],"range":[1175,1135],"nice":false,"zero":false}},"text":{"field":"t"}}},
{"mark":{"type":"text","text":"bits","fontSize":12,"angle":270,"align":"center","baseline":"middle","color":"#000"},
 "encoding":{"x":{"datum":-3.4,"type":"quantitative","scale":{"domain":[0,58],"range":[186,716.7],"nice":false,"zero":false}},
 "y":{"datum":2.4,"type":"quantitative","scale":{"domain":[0,4],"range":[1175,1135],"nice":false,"zero":false}}}},
{"mark":{"type":"text","text":"BrlA","fontSize":22,"fontWeight":"bold","align":"right","baseline":"middle","color":"#000"},
 "encoding":{"x":{"datum":-5.46,"type":"quantitative","scale":{"domain":[0,58],"range":[186,716.7],"nice":false,"zero":false}},
 "y":{"datum":2.0,"type":"quantitative","scale":{"domain":[0,4],"range":[1175,1135],"nice":false,"zero":false}}}},

{"data":{"name":"letters"},"transform":[{"filter":"datum.g==='WetA'"},{"stack":"h","groupby":["p"],"sort":[{"field":"k","order":"descending"}],"as":["s0","s1"]}],
 "mark":{"type":"rect","opacity":0.9},
 "encoding":{"x":{"field":"p","type":"ordinal","scale":{"type":"band","domain":[0,1,2,3,4,5,6,7,8,9,10,11,12,13,14,15,16,17,18,19,20,21,22,23,24,25,26,27,28,29,30,31,32,33,34,35,36,37,38,39,40,41,42,43,44,45,46,47,48,49,50,51,52],"range":[188.5,680],"paddingInner":0.1,"paddingOuter":0.05}},
 "y":{"field":"s0","type":"quantitative","scale":{"domain":[0,4],"range":[1247,1205],"nice":false,"zero":false}},"y2":{"field":"s1"},
 "color":{"field":"l","type":"nominal","scale":{"domain":["R","K","N","D","E","Q","S","T","G","H","P","A","F","V","L","I","Y","C","M","W"],"range":["#2d49a6","#2d49a6","#2d49a6","#2d49a6","#2d49a6","#2d49a6","#2f9a45","#2f9a45","#2f9a45","#2f9a45","#2f9a45","#2f9a45","#111111","#111111","#111111","#111111","#111111","#111111","#111111","#111111"]},"legend":null}}},
{"data":{"name":"letters"},"transform":[{"filter":"datum.g==='WetA'"},{"stack":"h","groupby":["p"],"sort":[{"field":"k","order":"descending"}],"as":["s0","s1"]},{"filter":"datum.h>=1.2"}],
 "mark":{"type":"text","color":"white","fontSize":9,"fontWeight":"bold","baseline":"top","dy":1,"align":"center"},
 "encoding":{"x":{"field":"p","type":"ordinal","scale":{"type":"band","domain":[0,1,2,3,4,5,6,7,8,9,10,11,12,13,14,15,16,17,18,19,20,21,22,23,24,25,26,27,28,29,30,31,32,33,34,35,36,37,38,39,40,41,42,43,44,45,46,47,48,49,50,51,52],"range":[188.5,680],"paddingInner":0.1,"paddingOuter":0.05}},
 "y":{"field":"s1","type":"quantitative","scale":{"domain":[0,4],"range":[1247,1205],"nice":false,"zero":false}},"text":{"field":"l"}}},
{"data":{"name":"letters"},"transform":[{"filter":"datum.g==='WetA' && datum.k===1"}],"mark":{"type":"rule","color":"#888","strokeWidth":1},
 "encoding":{"x":{"field":"p","type":"ordinal","scale":{"type":"band","domain":[0,1,2,3,4,5,6,7,8,9,10,11,12,13,14,15,16,17,18,19,20,21,22,23,24,25,26,27,28,29,30,31,32,33,34,35,36,37,38,39,40,41,42,43,44,45,46,47,48,49,50,51,52],"range":[188.5,680],"paddingInner":0.1,"paddingOuter":0.05}},
 "y":{"datum":0,"type":"quantitative","scale":{"domain":[0,4],"range":[1247,1205],"nice":false,"zero":false}},"y2":{"datum":-0.2}}},
{"mark":{"type":"rule","color":"#888","strokeWidth":1},
 "encoding":{"x":{"datum":0,"type":"quantitative","scale":{"domain":[0,53],"range":[188.5,680],"nice":false,"zero":false}},"x2":{"datum":53},
 "y":{"datum":0,"type":"quantitative","scale":{"domain":[0,4],"range":[1247,1205],"nice":false,"zero":false}}}},
{"mark":{"type":"rule","color":"#222","strokeWidth":1},
 "encoding":{"x":{"datum":-0.43,"type":"quantitative","scale":{"domain":[0,53],"range":[188.5,680],"nice":false,"zero":false}},
 "y":{"datum":0,"type":"quantitative","scale":{"domain":[0,4],"range":[1247,1205],"nice":false,"zero":false}},"y2":{"datum":4.3}}},
{"data":{"name":"ticks"},"mark":{"type":"rule","color":"#222","strokeWidth":1},
 "encoding":{"x":{"datum":-0.86,"type":"quantitative","scale":{"domain":[0,53],"range":[188.5,680],"nice":false,"zero":false}},"x2":{"datum":-0.43},
 "y":{"field":"v","type":"quantitative","scale":{"domain":[0,4],"range":[1247,1205],"nice":false,"zero":false}}}},
{"data":{"name":"ticks"},"mark":{"type":"text","fontSize":12,"align":"right","baseline":"middle","color":"#000"},
 "encoding":{"x":{"datum":-1.15,"type":"quantitative","scale":{"domain":[0,53],"range":[188.5,680],"nice":false,"zero":false}},
 "y":{"field":"v","type":"quantitative","scale":{"domain":[0,4],"range":[1247,1205],"nice":false,"zero":false}},"text":{"field":"t"}}},
{"mark":{"type":"text","text":"bits","fontSize":12,"angle":270,"align":"center","baseline":"middle","color":"#000"},
 "encoding":{"x":{"datum":-3.55,"type":"quantitative","scale":{"domain":[0,53],"range":[188.5,680],"nice":false,"zero":false}},
 "y":{"datum":2.3,"type":"quantitative","scale":{"domain":[0,4],"range":[1247,1205],"nice":false,"zero":false}}}},
{"mark":{"type":"text","text":"WetA","fontSize":22,"fontWeight":"bold","align":"right","baseline":"middle","color":"#000"},
 "encoding":{"x":{"datum":-4.6,"type":"quantitative","scale":{"domain":[0,53],"range":[188.5,680],"nice":false,"zero":false}},
 "y":{"datum":2.0,"type":"quantitative","scale":{"domain":[0,4],"range":[1247,1205],"nice":false,"zero":false}}}},
{"mark":{"type":"rule","color":"#c0272d","strokeWidth":4},
 "encoding":{"x":{"datum":22.04,"type":"quantitative","scale":{"domain":[0,53],"range":[188.5,680],"nice":false,"zero":false}},"x2":{"datum":36.73},
 "y":{"datum":4.15,"type":"quantitative","scale":{"domain":[0,4],"range":[1247,1205],"nice":false,"zero":false}}}},
{"mark":{"type":"rule","color":"#4a7fc1","strokeWidth":4},
 "encoding":{"x":{"datum":39.26,"type":"quantitative","scale":{"domain":[0,53],"range":[188.5,680],"nice":false,"zero":false}},"x2":{"datum":47.7},
 "y":{"datum":4.15,"type":"quantitative","scale":{"domain":[0,4],"range":[1247,1205],"nice":false,"zero":false}}}}
]
}
